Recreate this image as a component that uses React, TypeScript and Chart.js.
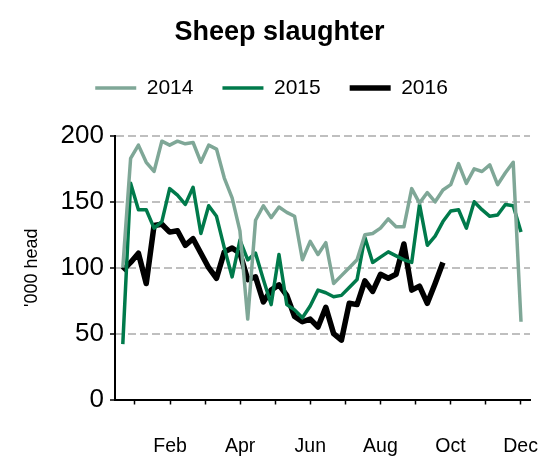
import React, { useEffect, useRef } from 'react';
import { Chart, registerables } from 'chart.js';

Chart.register(...registerables);

const FONT = '"Liberation Sans", Arial, sans-serif';

const weeks = [
  1, 2, 3, 4, 5, 6, 7, 8, 9, 10, 11, 12, 13, 14, 15, 16, 17, 18, 19, 20, 21, 22, 23, 24, 25, 26,
  27, 28, 29, 30, 31, 32, 33, 34, 35, 36, 37, 38, 39, 40, 41, 42, 43, 44, 45, 46, 47, 48, 49, 50, 51, 52,
];

const monthTickLabels = ['', 'Feb', '', 'Apr', '', 'Jun', '', 'Aug', '', 'Oct', '', 'Dec'];
const yTickValues = [0, 50, 100, 150, 200];

const series2014 = [
  100, 183, 193, 180, 173, 196, 193, 196, 194, 195, 180, 193, 190, 168, 153, 128, 61, 136, 147, 138,
  146, 142, 139, 106, 120, 110, 119, 88, 94, 100, 106, 125, 126, 130, 137, 131, 131, 160, 149, 157,
  150, 159, 163, 179, 164, 175, 173, 178, 163, 172, 180, 59,
];

const series2015 = [
  42, 164, 144, 144, 130, 135, 160, 155, 148, 161, 126, 147, 139, 115, 93, 121, 106, 111, 91, 72,
  110, 72, 68, 62, 71, 83, 81, 78, 79, 85, 91, 123, 104, 108, 112, 109, 106, 104, 148, 117,
  124, 135, 143, 144, 130, 150, 144, 139, 140, 148, 147, 127,
];

const series2016 = [
  98, 104, 111, 88, 132, 133, 127, 128, 117, 122, 111, 100, 92, 112, 115, 111, 91, 93, 74, 83,
  87, 79, 63, 59, 61, 55, 70, 50, 45, 73, 72, 90, 82, 95, 92, 95, 118, 83, 86, 73,
  88, 104,
];

// axis geometry (in week units)
const X_MIN = 0;
const X_MAX = 53.15;
const FIRST_MONTH_TICK = 2.56;
const MONTH_STEP = 4.49;

export default function App() {
  const canvasRef = useRef<HTMLCanvasElement | null>(null);

  useEffect(() => {
    if (!canvasRef.current) return;
    const chart = new Chart(canvasRef.current, {
      type: 'line',
      data: {
        labels: weeks,
        datasets: [
          {
            label: '2014',
            data: series2014,
            borderColor: '#7FA797',
            backgroundColor: '#7FA797',
            borderWidth: 3.5,
            pointRadius: 0,
            tension: 0,
            borderJoinStyle: 'round',
          },
          {
            label: '2015',
            data: series2015,
            borderColor: '#007A4B',
            backgroundColor: '#007A4B',
            borderWidth: 3.5,
            pointRadius: 0,
            tension: 0,
            borderJoinStyle: 'round',
          },
          {
            label: '2016',
            data: series2016,
            borderColor: '#000000',
            backgroundColor: '#000000',
            borderWidth: 5.5,
            pointRadius: 0,
            tension: 0,
            borderJoinStyle: 'round',
          },
        ],
      },
      options: {
        animation: false,
        responsive: true,
        maintainAspectRatio: false,
        layout: { padding: 0 },
        plugins: {
          title: {
            display: true,
            text: 'Sheep slaughter',
            color: '#000',
            font: { family: FONT, size: 27, weight: 'bold' },
            padding: { top: 16, bottom: 0 },
          },
          subtitle: {
            display: true,
            text: '',
            weight: 500,
            font: { family: FONT, size: 1 },
            padding: { top: 0, bottom: 26.3 },
          } as any,
          legend: {
            display: true,
            position: 'top',
            align: 'center',
            labels: {
              usePointStyle: true,
              pointStyle: 'line',
              pointStyleWidth: 41,
              padding: 29,
              color: '#000',
              font: { family: FONT, size: 21 },
              generateLabels: (c: any) => {
                const items = (Chart.defaults.plugins.legend.labels as any).generateLabels(c);
                if (items.length) items[items.length - 1].text += '  \u2009';
                return items;
              },
            },
          },
          tooltip: { enabled: false },
        },
        scales: {
          x: {
            type: 'linear',
            min: X_MIN,
            max: X_MAX,
            afterBuildTicks: (scale: any) => {
              scale.ticks = monthTickLabels.map((_, i) => ({ value: FIRST_MONTH_TICK + i * MONTH_STEP }));
            },
            afterFit: (scale: any) => {
              scale.height = 59.5;
            },
            ticks: {
              autoSkip: false,
              maxRotation: 0,
              padding: 0,
              color: '#000',
              font: { family: FONT, size: 19.5, lineHeight: 4.3 },
              callback: (_v: any, i: number) => monthTickLabels[i],
            },
            grid: {
              drawOnChartArea: false,
              drawTicks: true,
              tickLength: 5,
              tickColor: '#000',
              tickWidth: 1.5,
            },
            border: { display: true, color: '#000', width: 2 },
          },
          y: {
            min: 0,
            max: 200,
            afterBuildTicks: (scale: any) => {
              scale.ticks = yTickValues.map((v) => ({ value: v }));
            },
            afterFit: (scale: any) => {
              scale.width = 115;
            },
            ticks: {
              padding: 6,
              color: '#000',
              font: { family: FONT, size: 26 },
            },
            grid: {
              color: (ctx: any) => (ctx.tick && ctx.tick.value === 0 ? 'rgba(0,0,0,0)' : '#BFBFBF'),
              lineWidth: 2,
              drawTicks: true,
              tickLength: 5,
              tickColor: '#000',
              tickWidth: 1.5,
            },
            border: { display: true, color: '#000', width: 2, dash: [8, 4] },
            title: {
              display: true,
              text: "'000 head",
              color: '#000',
              font: { family: FONT, size: 18 },
              padding: { top: 21, bottom: 0 },
            },
          },
          yRightSpace: {
            type: 'linear',
            position: 'right',
            display: true,
            min: 0,
            max: 1,
            ticks: { display: false },
            grid: { display: false, drawTicks: false },
            border: { display: false },
            afterFit: (scale: any) => {
              scale.width = 29;
            },
          },
        },
      },
    });
    return () => chart.destroy();
  }, []);

  return (
    <div style={{ position: 'absolute', left: 0, top: 0, width: 559, height: 459, background: '#fff' }}>
      <canvas ref={canvasRef} />
    </div>
  );
}
